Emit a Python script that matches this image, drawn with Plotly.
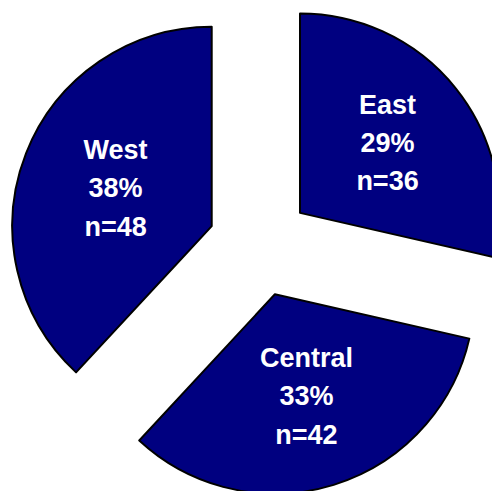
import plotly.graph_objects as go

regions = ["East", "Central", "West"]
counts = [36, 42, 48]

# geometry (pixels)
R_PX = 199.5          # slice radius
PULL = 0.2585         # explode fraction of radius
CX, CY = 259.7, 245.4 # pie centre in the window
SHIFT = 5.6           # page shift up so the pie can sit near the top

W, H = 540, 540
box = 2 * R_PX * (1 + PULL)
x0 = (CX - box / 2) / W
x1 = (CX + box / 2) / W
cy_div = CY + SHIFT
y1 = 1.0
y0 = 1.0 - box / H
# centre in div = H*(2-y1-y0)/2 ; choose so that it equals cy_div
y0 = 2 - y1 - 2 * cy_div / H

navy = "#000080"

fig = go.Figure(
    go.Pie(
        labels=regions,
        values=counts,
        sort=False,
        direction="clockwise",
        rotation=0,
        pull=[PULL] * len(regions),
        marker=dict(colors=[navy] * len(regions), line=dict(color="#000000", width=2)),
        texttemplate="<span style='font-size:27px'>%{label}</span><br>"
                     "<span style='font-size:27px'>%{percent:.0%}</span><br>"
                     "<span style='font-size:27px'>n=%{value}</span>",
        textposition="inside",
        insidetextorientation="horizontal",
        textfont=dict(family="Liberation Sans, Arial, sans-serif", size=29.5,
                      color="#ffffff", weight="bold"),
        hoverinfo="label+percent+value",
        domain=dict(x=[x0, x1], y=[y0, y1]),
        showlegend=False,
    )
)

fig.update_layout(
    width=W,
    height=H,
    margin=dict(l=0, r=0, t=0, b=0),
    paper_bgcolor="#ffffff",
    plot_bgcolor="#ffffff",
    showlegend=False,
    uniformtext=dict(mode=False),
)

post = (
    "document.body.style.margin='0';"
    "document.body.style.overflow='hidden';"
    "document.documentElement.style.overflow='hidden';"
    "var gd=document.getElementById('{plot_id}');"
    f"gd.style.marginTop='-{SHIFT}px';"
)

fig.write_html("out.html", post_script=post, config={"displayModeBar": False})
